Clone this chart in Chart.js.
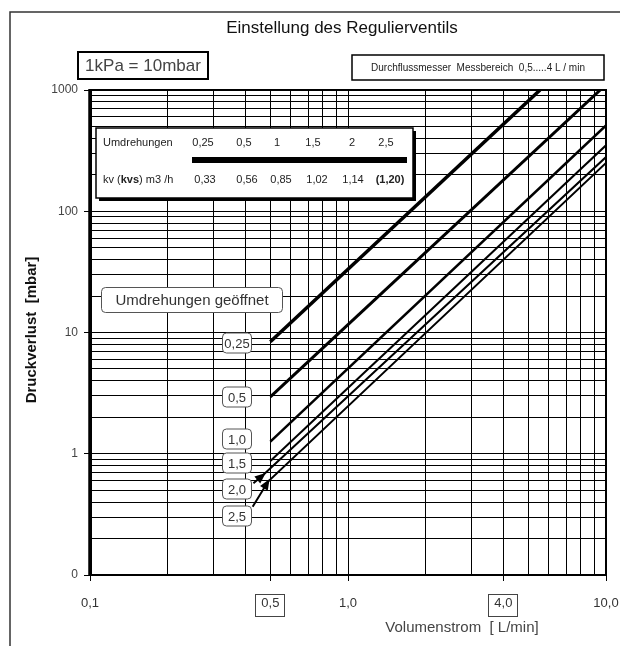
<!doctype html>
<html>
<head>
<meta charset="UTF-8">
<title>Einstellung des Regulierventils</title>
<script src="https://cdn.jsdelivr.net/npm/chart.js@4/dist/chart.umd.min.js"></script>
<style>
  body { margin: 0; background: #fff; }
</style>
</head>
<body>
<canvas id="canvas" width="620" height="646"></canvas>
<script>
// Umdrehungen geöffnet -> one line each
var turnLabels = ['0,25', '0,5', '1,0', '1,5', '2,0', '2,5'];
var kvValues = ['0,33', '0,56', '0,85', '1,02', '1,14', '(1,20)'];
var tableTurns = ['0,25', '0,5', '1', '1,5', '2', '2,5'];

// Volumenstrom [L/min] / Druckverlust [mbar]
var flow025 = [0.5, 5.55];    var dp025 = [8.4, 1000];
var flow05  = [0.5, 9.5];     var dp05  = [2.94, 1000];
var flow10  = [0.5, 10];      var dp10  = [1.26, 510];
var flow15  = [0.5, 10];      var dp15  = [0.87, 350];
var flow20  = [0.43, 0.47, 10];  var dp20 = [0.57, 0.67, 280];
var flow25  = [0.427, 0.49, 10]; var dp25 = [0.366, 0.59, 250];

var xTickValues = [0.1, 0.5, 1, 4, 10];
var xTickLabels = ['0,1', '0,5', '1,0', '4,0', '10,0'];
var yTickValues = [0.1, 1, 10, 100, 1000];
var yTickLabels = ['0', '1', '10', '100', '1000'];

function pts(xs, ys) {
	return xs.map(function(x, i){ return {x: x, y: ys[i]}; });
}

function same(a, b) { return Math.abs(a - b) < 1e-9 * Math.max(1, b); }

function labelFor(values, labels, v) {
	for (var i = 0; i < values.length; i++) {
		if (same(values[i], v)) return labels[i];
	}
	return '';
}

// log grid: 1..9 in every decade
function logTicks(min, max) {
	var t = [];
	for (var e = Math.round(Math.log10(min)); e < Math.round(Math.log10(max)); e++) {
		for (var k = 1; k < 10; k++) t.push({value: Number((k * Math.pow(10, e)).toPrecision(3))});
	}
	t.push({value: max});
	return t;
}

var series = [
	{f: flow025, d: dp025, w: 3.5},
	{f: flow05,  d: dp05,  w: 3},
	{f: flow10,  d: dp10,  w: 2.5},
	{f: flow15,  d: dp15,  w: 2},
	{f: flow20,  d: dp20,  w: 2},
	{f: flow25,  d: dp25,  w: 2}
];

var NARROW = '"Liberation Sans Narrow", "Liberation Sans", Arial, sans-serif';
var SANS = '"Liberation Sans", Arial, sans-serif';

function roundBox(ctx, x, y, w, h, r) {
	ctx.beginPath();
	ctx.moveTo(x + r, y);
	ctx.lineTo(x + w - r, y);
	ctx.quadraticCurveTo(x + w, y, x + w, y + r);
	ctx.lineTo(x + w, y + h - r);
	ctx.quadraticCurveTo(x + w, y + h, x + w - r, y + h);
	ctx.lineTo(x + r, y + h);
	ctx.quadraticCurveTo(x, y + h, x, y + h - r);
	ctx.lineTo(x, y + r);
	ctx.quadraticCurveTo(x, y, x + r, y);
	ctx.closePath();
}

function tagBox(ctx, text, cx, cy, w, h, font) {
	roundBox(ctx, cx - w / 2, cy - h / 2, w, h, 4);
	ctx.fillStyle = '#fff';
	ctx.fill();
	ctx.lineWidth = 1;
	ctx.strokeStyle = '#555';
	ctx.stroke();
	ctx.fillStyle = '#333';
	ctx.font = font;
	ctx.textAlign = 'center';
	ctx.textBaseline = 'middle';
	ctx.fillText(text, cx, cy + 1);
}

var decor = {
	id: 'decor',
	beforeDraw: function(chart) {
		var ctx = chart.ctx;
		ctx.save();
		ctx.fillStyle = '#fff';
		ctx.fillRect(0, 0, chart.width, chart.height);
		ctx.restore();
	},
	afterDraw: function(chart) {
		var ctx = chart.ctx;
		var a = chart.chartArea;
		var xs = chart.scales.x;
		ctx.save();

		// outer frame (left + top)
		ctx.strokeStyle = '#333';
		ctx.lineWidth = 1.5;
		ctx.beginPath();
		ctx.moveTo(10, 646);
		ctx.lineTo(10, 12);
		ctx.lineTo(620, 12);
		ctx.stroke();

		// plot border
		ctx.strokeStyle = '#000';
		ctx.lineWidth = 2;
		ctx.strokeRect(a.left, a.top, a.right - a.left, a.bottom - a.top);
		ctx.lineWidth = 3.5;
		ctx.beginPath();
		ctx.moveTo(a.left, a.top - 1);
		ctx.lineTo(a.left, a.bottom);
		ctx.stroke();

		// arrow heads on 2,0 and 2,5
		[4, 5].forEach(function(i) {
			var m = chart.getDatasetMeta(i).data;
			var p0 = m[0], p1 = m[1];
			var ang = Math.atan2(p1.y - p0.y, p1.x - p0.x);
			ctx.save();
			ctx.translate(p1.x, p1.y);
			ctx.rotate(ang);
			ctx.beginPath();
			ctx.moveTo(3, 0);
			ctx.lineTo(-8, -4.5);
			ctx.lineTo(-8, 4.5);
			ctx.closePath();
			ctx.fillStyle = '#000';
			ctx.fill();
			ctx.restore();
		});

		// title
		ctx.fillStyle = '#111';
		ctx.font = '17px ' + SANS;
		ctx.textAlign = 'center';
		ctx.textBaseline = 'middle';
		ctx.fillText('Einstellung des Regulierventils', 342, 28);

		// 1kPa box
		ctx.fillStyle = '#fff';
		ctx.fillRect(78, 52, 130, 27);
		ctx.strokeStyle = '#000';
		ctx.lineWidth = 2;
		ctx.strokeRect(78, 52, 130, 27);
		ctx.fillStyle = '#444';
		ctx.font = '17px ' + SANS;
		ctx.fillText('1kPa = 10mbar', 143, 66);

		// Messbereich box
		ctx.fillStyle = '#fff';
		ctx.fillRect(352, 55, 252, 25);
		ctx.lineWidth = 1.5;
		ctx.strokeRect(352, 55, 252, 25);
		ctx.fillStyle = '#222';
		ctx.font = '10px ' + NARROW;
		ctx.fillText('Durchflussmesser  Messbereich  0,5.....4 L / min', 478, 68);

		// inset table
		ctx.fillStyle = '#000';
		ctx.fillRect(99, 131, 317, 70);
		ctx.fillStyle = '#fff';
		ctx.fillRect(96, 128, 317, 70);
		ctx.strokeStyle = '#000';
		ctx.lineWidth = 1.5;
		ctx.strokeRect(96, 128, 317, 70);
		ctx.fillStyle = '#000';
		ctx.fillRect(192, 157, 215, 6);
		ctx.fillStyle = '#222';
		ctx.font = '11px ' + NARROW;
		ctx.textAlign = 'left';
		ctx.fillText('Umdrehungen', 103, 143);
		var colT = [203, 244, 277, 313, 352, 386];
		var colK = [205, 247, 281, 317, 353, 390];
		ctx.textAlign = 'center';
		tableTurns.forEach(function(t, i){ ctx.fillText(t, colT[i], 143); });
		kvValues.forEach(function(t, i){
			ctx.font = (i === 5 ? 'bold ' : '') + '11px ' + NARROW;
			ctx.fillText(t, colK[i], 180);
		});
		// "kv (kvs) m3 /h"
		ctx.textAlign = 'left';
		var x0 = 103;
		[['kv (', ''], ['kvs', 'bold '], [') m3 /h', '']].forEach(function(p) {
			ctx.font = p[1] + '11px ' + NARROW;
			ctx.fillText(p[0], x0, 180);
			x0 += ctx.measureText(p[0]).width;
		});

		// tags
		tagBox(ctx, 'Umdrehungen geöffnet', 192, 300, 181, 25, '15px ' + SANS);
		var tagY = [343, 397, 439, 463, 489, 516];
		turnLabels.forEach(function(t, i) {
			tagBox(ctx, t, 237, tagY[i], 29, 20, '13px ' + SANS);
		});

		// boxed x ticks
		ctx.strokeStyle = '#444';
		ctx.lineWidth = 1;
		[0.5, 4].forEach(function(v) {
			var px = Math.round(xs.getPixelForValue(v));
			ctx.strokeRect(px - 14.5, 594.5, 29, 22);
		});

		// axis titles
		ctx.fillStyle = '#444';
		ctx.font = '15px ' + SANS;
		ctx.textAlign = 'center';
		ctx.fillText('Volumenstrom  [ L/min]', 462, 628);

		ctx.save();
		ctx.translate(32, 330);
		ctx.rotate(-Math.PI / 2);
		ctx.fillStyle = '#111';
		ctx.font = 'bold 15px ' + NARROW;
		ctx.fillText('Druckverlust  [mbar]', 0, 0);
		ctx.restore();

		ctx.restore();
	}
};

var chartData = {
	datasets: series.map(function(s, i) {
		return {
			label: turnLabels[i],
			data: pts(s.f, s.d),
			borderColor: '#000',
			borderWidth: s.w,
			pointRadius: 0,
			fill: false,
			tension: 0
		};
	})
};

window.onload = function(){
	var ctx = document.getElementById('canvas').getContext('2d');
	window.myChart = new Chart(ctx, {
		type: 'line',
		data: chartData,
		plugins: [decor],
		options: {
			responsive: false,
			animation: false,
			devicePixelRatio: 1,
			layout: { padding: { left: 50, right: 14, top: 90, bottom: 0 } },
			plugins: { legend: { display: false }, tooltip: { enabled: false } },
			scales: {
				x: {
					type: 'logarithmic',
					min: 0.1, max: 10,
					afterBuildTicks: function(scale){ scale.ticks = logTicks(0.1, 10); },
					afterFit: function(scale){
						scale.height = 71;
						scale.paddingLeft = 0;
						scale.paddingRight = 0;
					},
					grid: {
						color: '#000', lineWidth: 1, tickLength: 6,
						tickColor: function(c){ return c.tick && labelFor(xTickValues, xTickLabels, c.tick.value) ? '#000' : 'rgba(0,0,0,0)'; }
					},
					border: { color: '#000', width: 2 },
					ticks: {
						autoSkip: false, maxRotation: 0, padding: 15,
						color: '#333', font: { family: SANS, size: 13 },
						callback: function(v){ return labelFor(xTickValues, xTickLabels, v); }
					}
				},
				y: {
					type: 'logarithmic',
					min: 0.1, max: 1000,
					afterBuildTicks: function(scale){ scale.ticks = logTicks(0.1, 1000); },
					afterFit: function(scale){ scale.width = 40; },
					grid: {
						color: '#000', lineWidth: 1, tickLength: 6,
						tickColor: function(c){ return c.tick && labelFor(yTickValues, yTickLabels, c.tick.value) ? '#000' : 'rgba(0,0,0,0)'; }
					},
					border: { color: '#000', width: 3 },
					ticks: {
						autoSkip: false, padding: 6,
						color: '#444', font: { family: SANS, size: 12 },
						callback: function(v){ return labelFor(yTickValues, yTickLabels, v); }
					}
				}
			}
		}
	});
};
</script>
</body>
</html>
